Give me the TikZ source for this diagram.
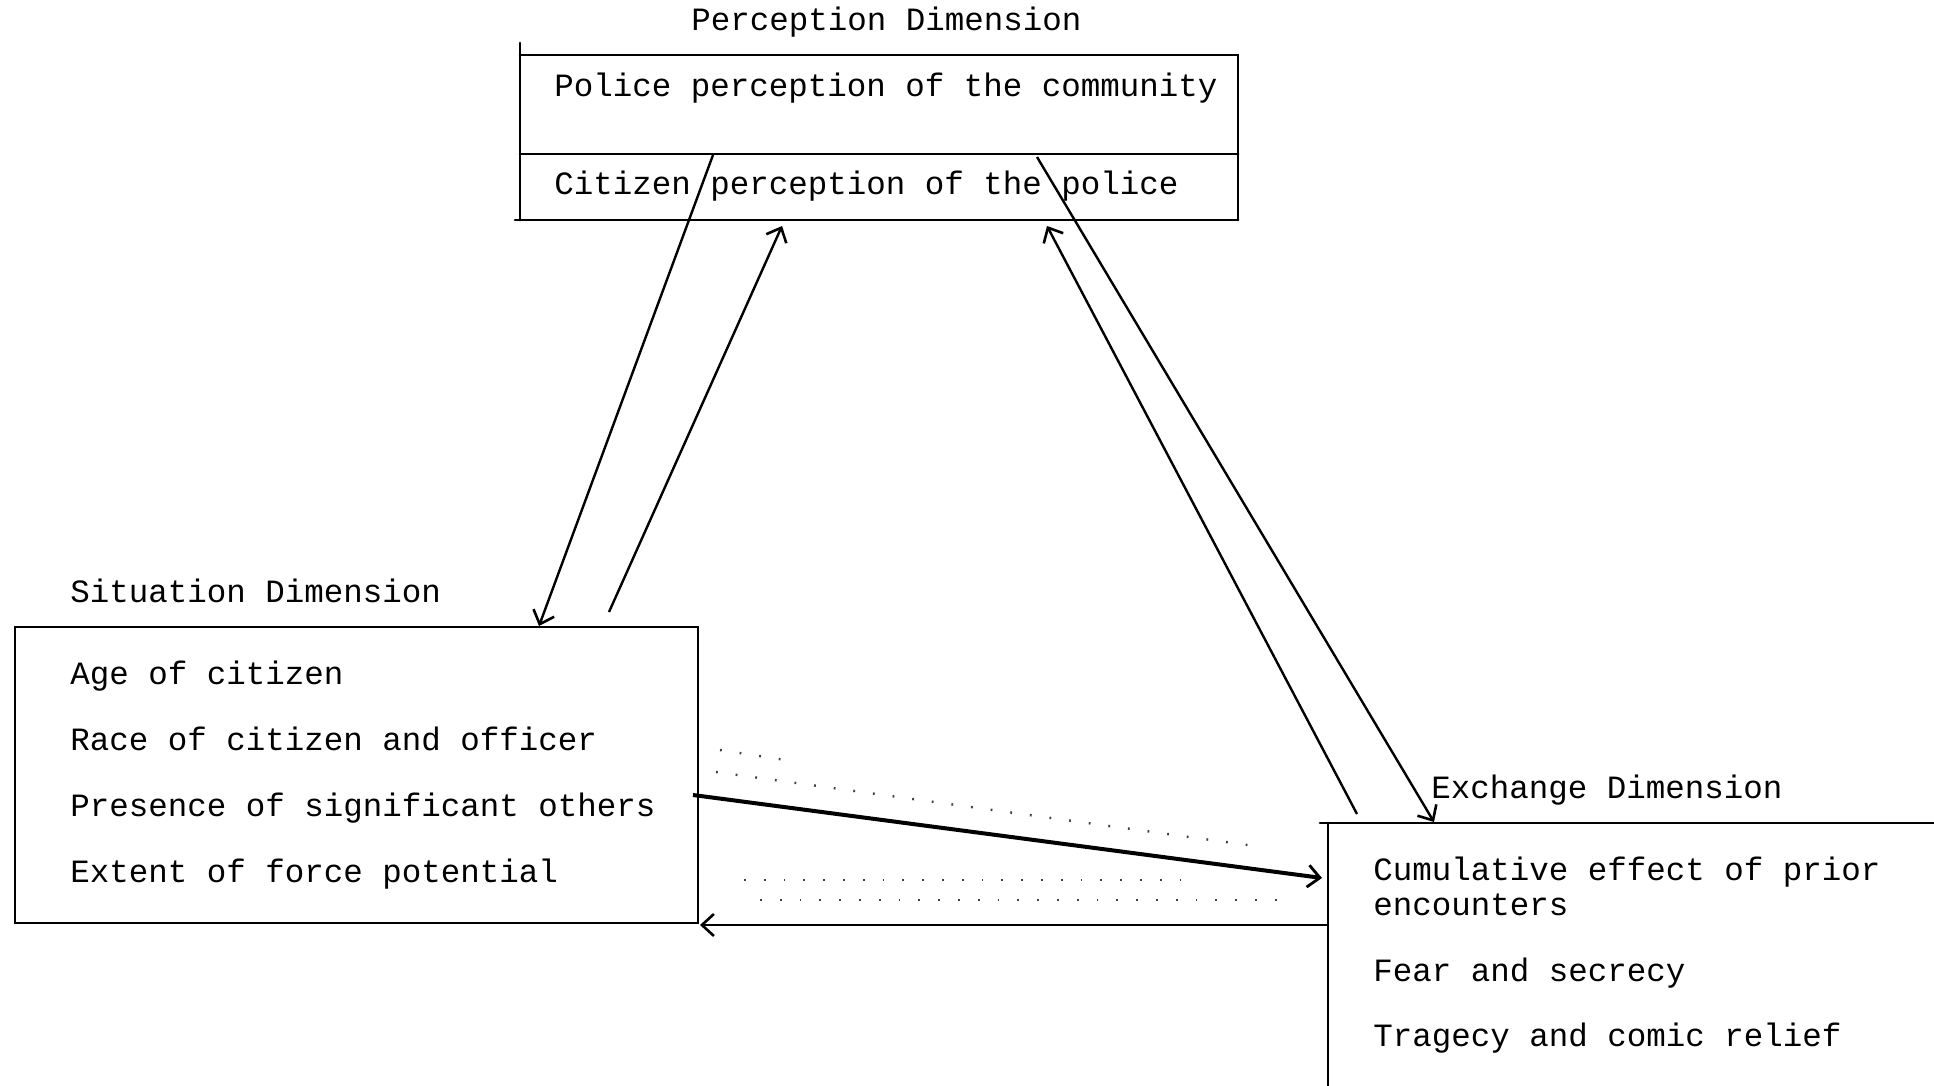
\documentclass[tikz,border=0pt]{standalone}
\usepackage{fontspec}
\newfontfamily\tw{Liberation Mono}
\usetikzlibrary{arrows.meta}
\tikzset{
  txt/.style={inner sep=0pt, anchor=base west, font=\tw\fontsize{16.25pt}{20pt}\selectfont},
  boxline/.style={line width=1.4pt, line cap=round},
  conn/.style={line width=1.2pt, -{Straight Barb[length=6pt,width=11pt,line width=1.3pt]}},
  thickconn/.style={line width=2pt, -{Straight Barb[length=6pt,width=11pt,line width=1.4pt]}},
  faint/.style={line width=1.2pt, dash pattern=on 0.9pt off 9pt, black!75}
}
\begin{document}
\begin{tikzpicture}[x=0.5pt,y=-0.5pt]
\useasboundingbox (0,0) rectangle (1934,1086);
% Perception box
\draw[boxline] (520,43) -- (520,220);
\draw[boxline] (520,55) -- (1238,55) -- (1238,220);
\draw[boxline] (520,154) -- (1238,154);
\draw[boxline] (515,220) -- (1238,220);
\node[txt] (ptitle) at (691,31) {Perception Dimension};
\node[txt] (police) at (554,97) {Police perception of the community};
\node[txt] (citizen) at (554,195) {Citizen perception of the police};
% Situation box
\draw[boxline] (15,627) rectangle (698,923);
\node[txt] (stitle) at (70,602) {Situation Dimension};
\node[txt] (age) at (70,684) {Age of citizen};
\node[txt] (race) at (70,750) {Race of citizen and officer};
\node[txt] (pres) at (70,816) {Presence of significant others};
\node[txt] (ext) at (70,882) {Extent of force potential};
% Exchange box
\draw[boxline] (1320,823) -- (1934,823);
\draw[boxline] (1328,823) -- (1328,1086);
\node[txt] (etitle) at (1431,798) {Exchange Dimension};
\node[txt] (cum) at (1373,880) {Cumulative effect of prior};
\node[txt] (enc) at (1373,915) {encounters};
\node[txt] (fear) at (1373,981) {Fear and secrecy};
\node[txt] (trag) at (1373,1046) {Tragecy and comic relief};
% connector end points
\coordinate (a1s) at (713,155);
\coordinate (a1e) at (539,626);
\coordinate (a2s) at (609,612);
\coordinate (a2e) at (782,226);
\coordinate (a3s) at (1357,814);
\coordinate (a3e) at (1047,226);
\coordinate (a4s) at (1037,157);
\coordinate (a4e) at (1434,822);
\coordinate (a5s) at (693,795);
\coordinate (a5e) at (1322,878);
\coordinate (a6s) at (1328,925);
\coordinate (a6e) at (700,925);
\draw[conn] (a1s) -- (a1e);
\draw[conn] (a2s) -- (a2e);
\draw[conn] (a3s) -- (a3e);
\draw[conn] (a4s) -- (a4e);
\draw[thickconn] (a5s) -- (a5e);
\draw[conn, line width=1.4pt] (a6s) -- (a6e);
% faint dotted lines
\coordinate (d1s) at (720,750);
\coordinate (d1e) at (792,761);
\coordinate (d2s) at (716,772);
\coordinate (d2e) at (1262,847);
\coordinate (d3s) at (744,880);
\coordinate (d3e) at (1190,880);
\coordinate (d4s) at (760,900);
\coordinate (d4e) at (1290,900);
\draw[faint] (d1s) -- (d1e);
\draw[faint] (d2s) -- (d2e);
\draw[faint] (d3s) -- (d3e);
\draw[faint] (d4s) -- (d4e);
\end{tikzpicture}
\end{document}
